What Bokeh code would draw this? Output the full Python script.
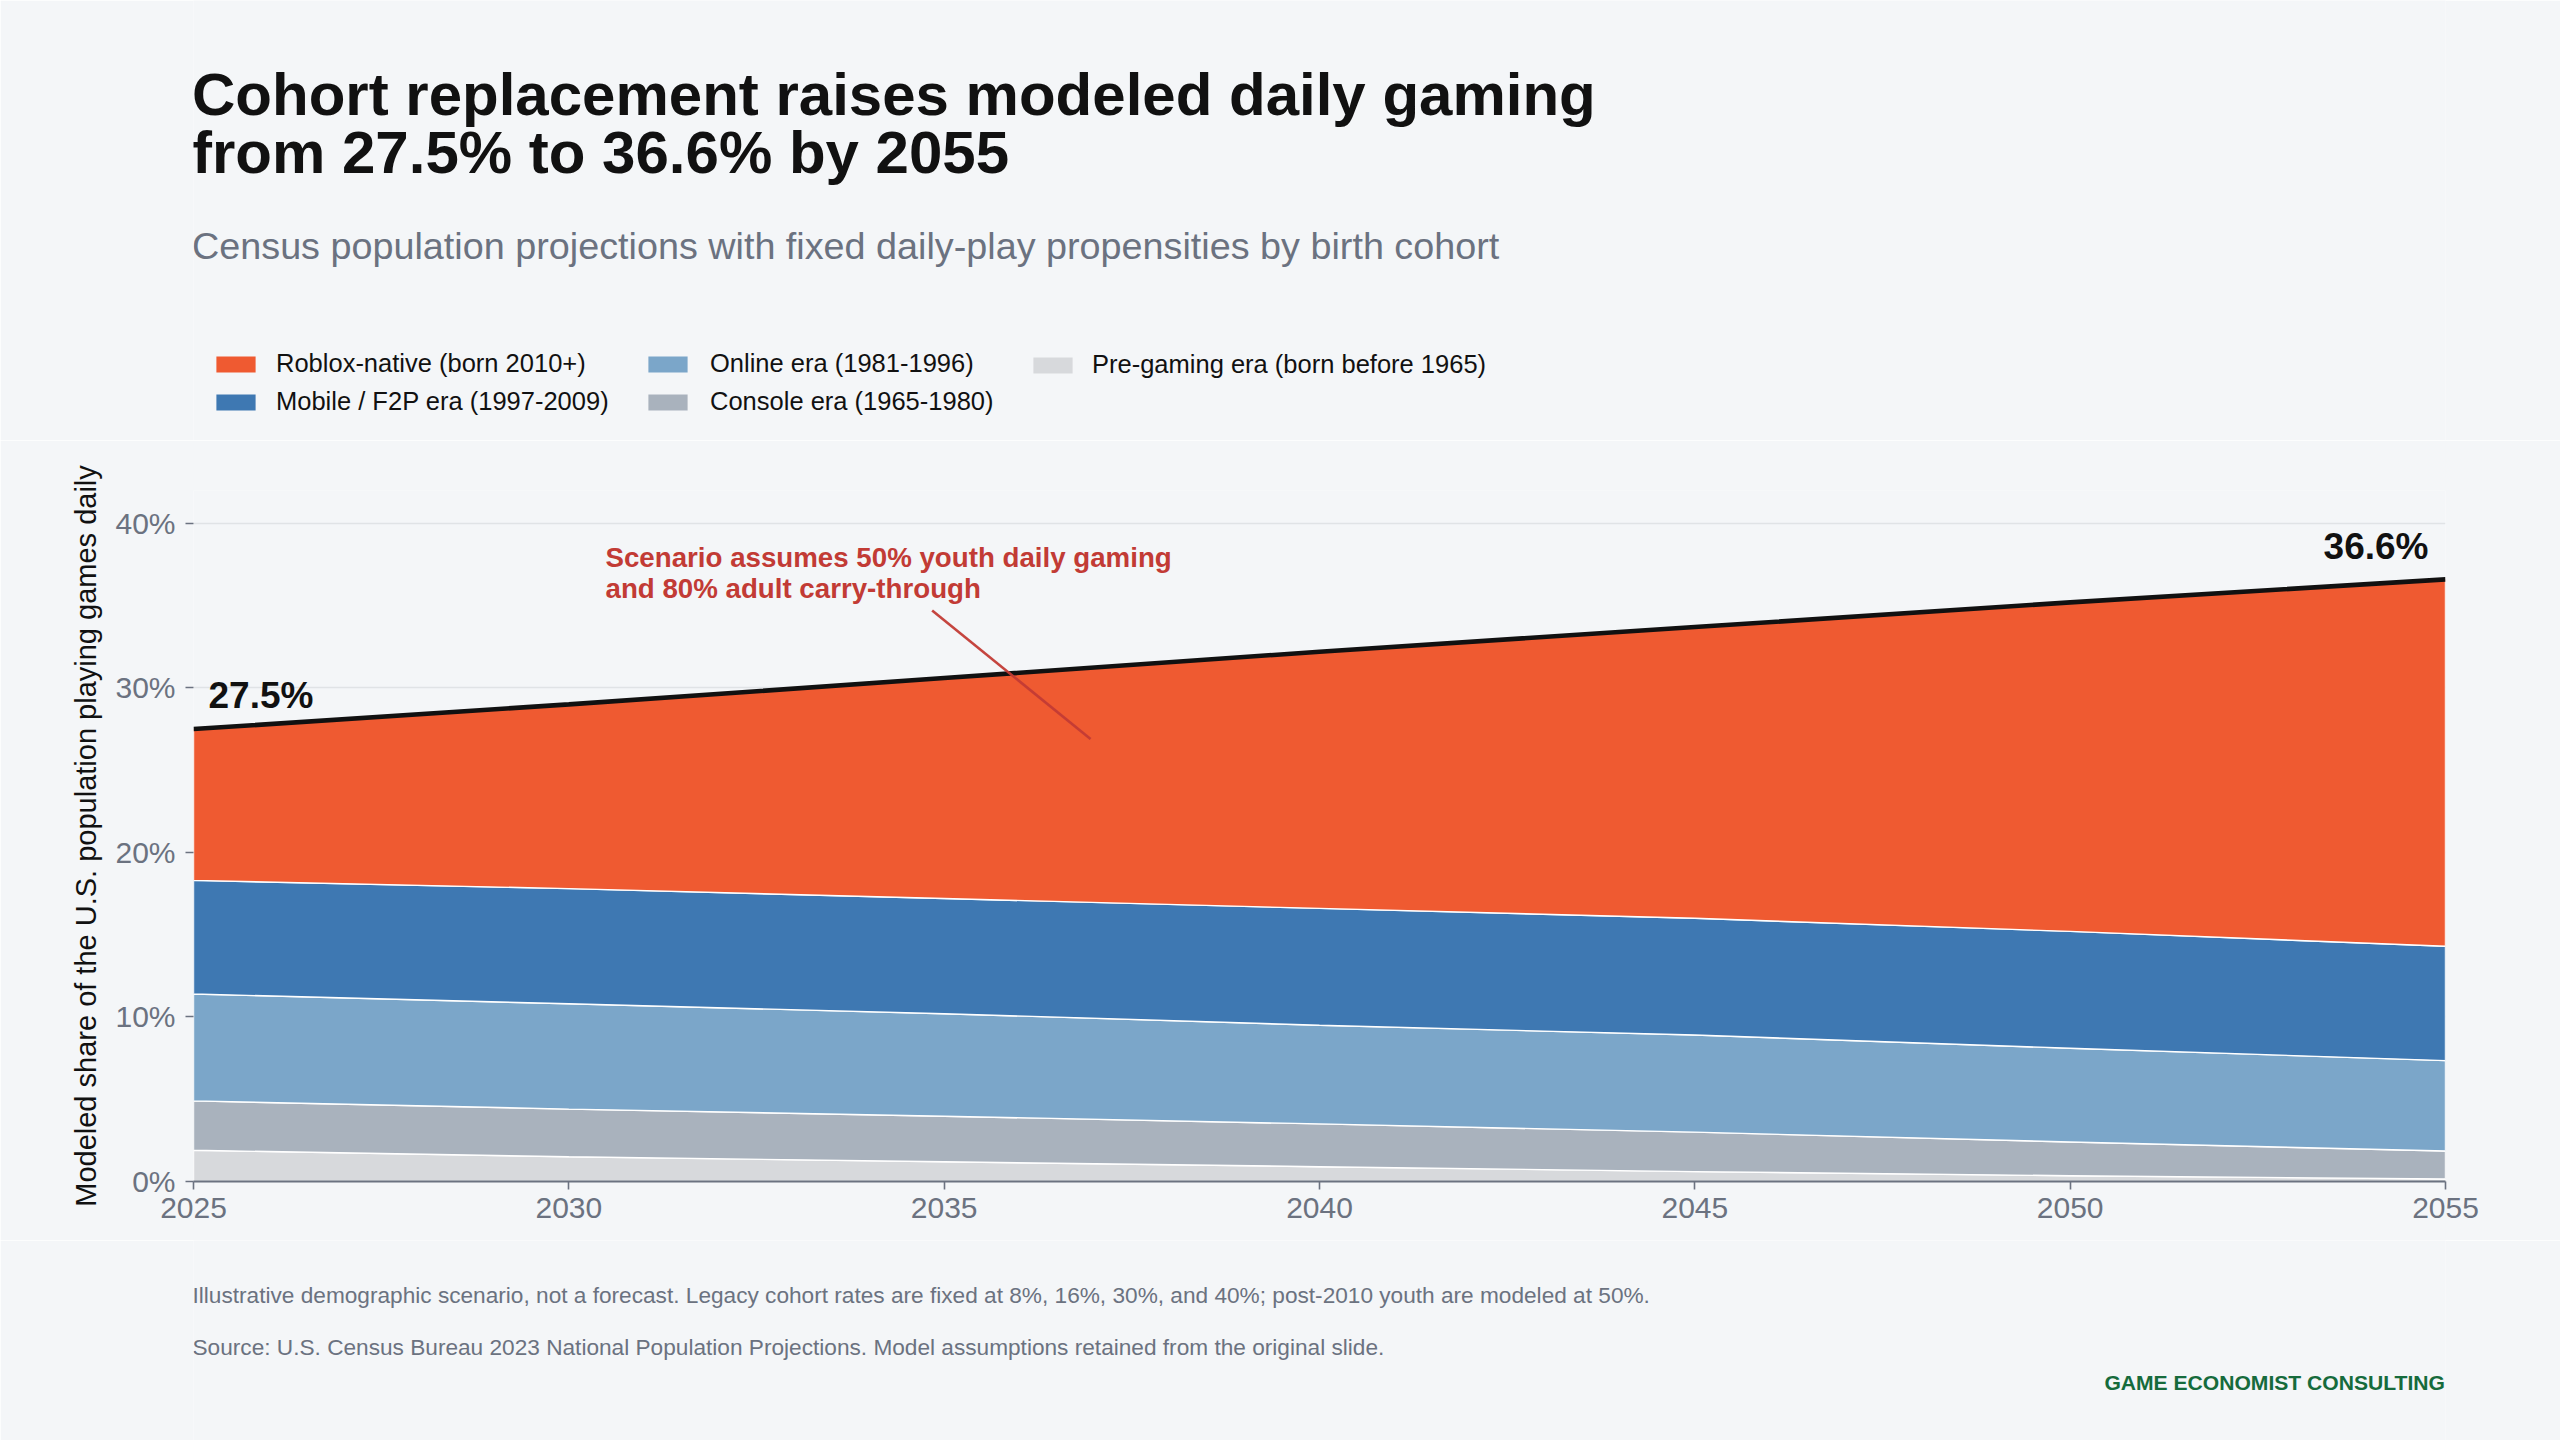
from bokeh.embed import file_html
from bokeh.layouts import column
from bokeh.models import FixedTicker, Label, Legend, LegendItem, Range1d
from bokeh.plotting import figure
from bokeh.resources import INLINE

years = [2025, 2030, 2035, 2040, 2045, 2050, 2055]
# Upper edge of each stacked band, percent of population
pre_gaming_top = [1.9, 1.5, 1.2, 0.9, 0.6, 0.35, 0.15]
console_top = [4.9, 4.4, 3.97, 3.5, 3.0, 2.4, 1.85]
online_top = [11.4, 10.8, 10.2, 9.5, 8.9, 8.1, 7.35]
mobile_top = [18.3, 17.8, 17.2, 16.6, 16.0, 15.2, 14.3]
total_top = [27.5, 29.0, 30.6, 32.2, 33.7, 35.2, 36.6]

series_names = ["Pre-gaming era (born before 1965)", "Console era (1965-1980)", "Online era (1981-1996)",
                "Mobile / F2P era (1997-2009)", "Roblox-native (born 2010+)"]
x_ticks = [2025, 2030, 2035, 2040, 2045, 2050, 2055]
y_ticks = [0, 10, 20, 30, 40]
y_tick_labels = ["0%", "10%", "20%", "30%", "40%"]

BG = "#f4f6f8"
COLORS = ["#d7d9dc", "#a9b2bd", "#7ba6c9", "#3e78b2", "#ef5a31"]
GREY = "#6b7280"
INK = "#111111"
RED = "#c23b35"
FONT = "Liberation Sans"

W = 2560
SPLIT_TOP, SPLIT_BOTTOM, H = 440, 1240, 1440
FRAME_L, FRAME_R, FRAME_T, FRAME_B = 193, 2445, 490, 1181  # page pixels
BASE_FIX = 0.37

tops = [pre_gaming_top, console_top, online_top, mobile_top, total_top]
bottoms = [[0] * len(years)] + tops[:-1]
polygon_x = list(years) + list(years[::-1])


def blank(height):
    # frames of the column's figures share the chart's left and right edges
    f = figure(width=W, height=height, output_backend="svg", toolbar_location=None,
               x_range=Range1d(0, 1), y_range=Range1d(0, 1), x_axis_location=None, y_axis_location=None,
               min_border_left=FRAME_L, min_border_right=W - FRAME_R, min_border_top=0, min_border_bottom=0,
               background_fill_color=BG, border_fill_color=BG, outline_line_color=None)
    f.grid.visible = False
    return f


def page_text(f, bottom, text, px, py, size, color=INK, style="normal", align="left"):
    f.add_layout(Label(x=px - FRAME_L, y=bottom - py + BASE_FIX * size, x_units="screen", y_units="screen", text=text,
                       text_font=FONT, text_font_size=f"{size}px", text_font_style=style,
                       text_color=color, text_align=align, text_baseline="alphabetic"))


# ---- header: title, subtitle, legend
head = blank(SPLIT_TOP)
page_text(head, SPLIT_TOP, "Cohort replacement raises modeled daily gaming", 191.5, 116, 60, style="bold")
page_text(head, SPLIT_TOP, "from 27.5% to 36.6% by 2055", 191.5, 174, 60, style="bold")
page_text(head, SPLIT_TOP, "Census population projections with fixed daily-play propensities by birth cohort",
          191.5, 259, 37.75, color=GREY)

# the legend glyphs come from the same bands; the header's ranges keep them out of view
swatches = {name: head.patch(polygon_x, list(hi) + list(lo[::-1]), fill_color=color, line_color=None)
            for name, color, lo, hi in zip(series_names, COLORS, bottoms, tops)}


def legend_col(names, x, y, standoff):
    head.add_layout(Legend(items=[LegendItem(label=n, renderers=[swatches[n]]) for n in names],
                           location=(x - FRAME_L - 5, SPLIT_TOP - y), orientation="vertical",
                           background_fill_alpha=0, border_line_color=None, padding=0, margin=0, spacing=9,
                           glyph_width=49, glyph_height=20, label_height=20, label_standoff=standoff,
                           label_text_font=FONT, label_text_font_size="25.5px", label_text_color=INK))


legend_col(["Roblox-native (born 2010+)", "Mobile / F2P era (1997-2009)"], 216, 416, 16)
legend_col(["Online era (1981-1996)", "Console era (1965-1980)"], 648, 416, 18)
legend_col(["Pre-gaming era (born before 1965)"], 1033, 379, 15)

# ---- chart
p = figure(width=W, height=SPLIT_BOTTOM - SPLIT_TOP, output_backend="svg", toolbar_location=None,
           x_range=Range1d(2025, 2055), y_range=Range1d(0, 42),
           min_border_left=FRAME_L, min_border_right=W - FRAME_R,
           min_border_top=FRAME_T - SPLIT_TOP, min_border_bottom=SPLIT_BOTTOM - FRAME_B,
           background_fill_color=BG, border_fill_color=BG, outline_line_color=None)

p.xgrid.visible = False
p.ygrid.ticker = FixedTicker(ticks=y_ticks)
p.ygrid.grid_line_color = "#e0e3e6"
p.ygrid.grid_line_width = 1.6

p.xaxis.ticker = FixedTicker(ticks=x_ticks)
p.yaxis.ticker = FixedTicker(ticks=y_ticks)
p.yaxis.major_label_overrides = dict(zip(y_ticks, y_tick_labels))
p.xaxis.major_label_overrides = {t: str(t) for t in x_ticks}
for ax in (p.xaxis, p.yaxis):
    ax.major_label_text_font = FONT
    ax.major_label_text_font_size = "30px"
    ax.major_label_text_color = GREY
    ax.major_tick_line_color = GREY
    ax.major_tick_line_width = 1.6
    ax.major_tick_out = 8
    ax.major_tick_in = 0
    ax.minor_tick_line_color = None
p.xaxis.axis_line_color = GREY
p.xaxis.axis_line_width = 2
p.xaxis.major_label_standoff = 8
p.yaxis.axis_line_color = None
p.yaxis.major_label_standoff = 10
p.yaxis.axis_label = "Modeled share of the U.S. population playing games daily"
p.yaxis.axis_label_text_font = FONT
p.yaxis.axis_label_text_font_style = "normal"
p.yaxis.axis_label_text_font_size = "29px"
p.yaxis.axis_label_text_color = INK
p.yaxis.axis_label_standoff = 10

for color, lo, hi in zip(COLORS, bottoms, tops):
    p.patch(polygon_x, list(hi) + list(lo[::-1]), fill_color=color, line_color="white", line_width=1.4)

p.line(years, total_top, line_color=INK, line_width=4.6)
p.segment(x0=[2034.84], y0=[34.7], x1=[2036.95], y1=[26.9], line_color=RED, line_width=2.6, line_alpha=0.95)

page_text(p, FRAME_B, "27.5%", 208, 709, 37, style="bold")
page_text(p, FRAME_B, "36.6%", 2428, 560, 37, style="bold", align="right")
page_text(p, FRAME_B, "Scenario assumes 50% youth daily gaming", 605, 567, 27.7, color=RED, style="bold")
page_text(p, FRAME_B, "and 80% adult carry-through", 605, 598, 27.7, color=RED, style="bold")

# ---- footer
foot = blank(H - SPLIT_BOTTOM)
page_text(foot, H, "Illustrative demographic scenario, not a forecast. Legacy cohort rates are fixed at 8%, 16%, 30%, and 40%; post-2010 youth are modeled at 50%.",
          192, 1303, 22.65, color=GREY)
page_text(foot, H, "Source: U.S. Census Bureau 2023 National Population Projections. Model assumptions retained from the original slide.",
          192, 1354.5, 22.65, color=GREY)
page_text(foot, H, "GAME ECONOMIST CONSULTING", 2444.5, 1390, 21.1, color="#166b3c", style="bold", align="right")

page = column(head, p, foot, spacing=0)
open("out.html", "w").write(file_html(page, INLINE))
